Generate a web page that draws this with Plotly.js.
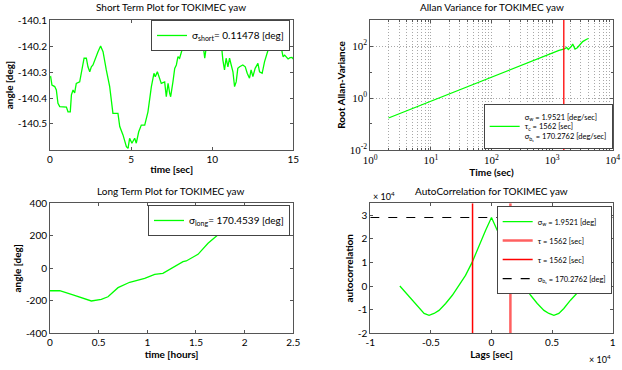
<!DOCTYPE html>
<html>
<head>
<meta charset="utf-8">
<script src="https://cdn.plot.ly/plotly-3.0.1.min.js"></script>
<style>html,body{margin:0;padding:0;background:#fff;}#chart{width:622px;height:370px;}</style>
</head>
<body>
<div id="chart"></div>
<script>
// ---------- Short term (time [sec] vs angle [deg]) ----------
var shortTime = [0,0.04,0.12,0.29,0.39,0.49,0.6,0.8,1.01,1.11,1.25,1.32,1.42,1.52,1.62,1.83,1.93,2.1,2.24,2.34,2.45,2.55,2.65,2.86,2.96,3.12,3.27,3.47,3.68,3.88,3.99,4.19,4.3,4.5,4.71,4.81,4.91,5.05,5.22,5.32,5.47,5.63,5.84,6.04,6.25,6.41,6.49,6.62,6.86,7.07,7.17,7.28,7.38,7.44,7.58,7.69,7.79,7.89,7.99,8.1,8.2,8.41,8.51,8.61,8.71,8.9,9.1,9.3,9.43,9.54,9.64,9.74,9.95,10.15,10.35,10.56,10.66,10.76,10.86,10.97,11.07,11.17,11.28,11.38,11.48,11.58,11.69,11.89,12.04,12.16,12.3,12.4,12.51,12.65,12.82,12.92,13.08,13.23,13.39,13.54,13.7,13.9,14.1,14.16,14.27,14.37,14.47,14.57,14.68,14.8,14.92,15];
var shortAngle = [-140.32,-140.318,-140.35,-140.356,-140.369,-140.42,-140.433,-140.433,-140.435,-140.453,-140.453,-140.388,-140.369,-140.38,-140.344,-140.338,-140.305,-140.247,-140.247,-140.28,-140.299,-140.28,-140.273,-140.235,-140.222,-140.2,-140.222,-140.292,-140.356,-140.459,-140.459,-140.459,-140.51,-140.542,-140.587,-140.594,-140.555,-140.574,-140.555,-140.574,-140.53,-140.504,-140.504,-140.453,-140.356,-140.305,-140.318,-140.299,-140.344,-140.338,-140.395,-140.344,-140.382,-140.395,-140.338,-140.286,-140.273,-140.241,-140.247,-140.222,-140.203,-140.21,-140.196,-140.19,-140.17,-140.15,-140.16,-140.17,-140.19,-140.247,-140.203,-140.19,-140.203,-140.196,-140.18,-140.19,-140.254,-140.292,-140.247,-140.28,-140.247,-140.273,-140.299,-140.356,-140.338,-140.286,-140.28,-140.273,-140.28,-140.305,-140.324,-140.292,-140.318,-140.286,-140.267,-140.299,-140.305,-140.26,-140.222,-140.196,-140.17,-140.15,-140.17,-140.19,-140.21,-140.241,-140.235,-140.241,-140.25,-140.245,-140.244,-140.25];
var shortYTicks = [-140.5,-140.4,-140.3,-140.2,-140.1];
var shortYLabels = ['-140.5','-140.4','-140.3','-140.2','-140.1'];

// ---------- Allan deviation ----------
var allanTau = [2,3,4,6,8,12,16,24,32,48,64,96,128,192,256,384,512,768,1024,1300,1450,1600,1740,1850,2090,2190,2390,2610,2880,3200,3720,3980];
var allanSigma = [0.170,0.248,0.324,0.474,0.621,0.906,1.19,1.73,2.27,3.31,4.34,6.34,8.30,12.1,15.8,23.2,30.3,44.3,57.9,67.6,72.4,77,88,74,98,120,76,86,112,148,182,195];
var tauC = 1562;
var allanRangeY = [0.01,1000];
var allanXTickVals = [1,10,100,1000,10000];
var allanXTickText = ['10<sup>0</sup>','10<sup>1</sup>','10<sup>2</sup>','10<sup>3</sup>','10<sup>4</sup>'];
var allanYTickVals = [0.01,1,100];
var allanYTickText = ['10<sup>-2</sup>','10<sup>0</sup>','10<sup>2</sup>'];

// ---------- Long term ----------
var longHours = [0,0.1,0.236,0.425,0.527,0.596,0.699,0.819,0.973,1.076,1.16,1.28,1.367,1.4,1.521,1.624,1.727,1.829,1.95];
var longAngle = [-138,-138,-164,-201,-191,-175,-119,-86,-62,-37,-31,10,41,45,86,154,205,256,320];
var longYTicks = [-400,-200,0,200,400];
var longYLabels = ['-400','-200','0','200','400'];

// ---------- Autocorrelation ----------
var lagSec = [-7560,-7070,-6520,-5970,-5560,-5150,-4740,-4330,-3780,-3230,-2690,-2140,-1590,-1040,-490,0,490,1040,1590,2140,2690,3230,3780,4330,4740,5150,5560,5970,6520,7070,7600];
var autoCorr = [0,-2800,-6000,-9500,-11600,-12400,-11600,-10300,-7400,-3900,300,4500,10100,17200,23500,29000,23500,17200,10100,4500,300,-3900,-7400,-10300,-11600,-12400,-11600,-9500,-6000,-2800,0];
var sigmaB = 170.2762;
var acXRange = [-10000,10000];
var acYRange = [-20000,35000];
var acXTicks = [-10000,-5000,0,5000,10000];
var acXLabels = ['-1','-0.5','0','0.5','1'];
var acYTicks = [-20000,-10000,0,10000,20000,30000];
var acYLabels = ['-2','-1','0','1','2','3'];

// minor tick positions for the log time axis (2..9 in each decade)
var allanXMinor = [];
[1,10,100,1000].forEach(function(d){ for (var k=2;k<10;k++) allanXMinor.push(k*d); });
var allanYMinor = [0.1,10];

var FONT = 'Lato, "Open Sans", sans-serif';
var GREEN = '#00ff00';
var AX = '#555';
var GRID = '#a8a8a8';
var DOTS = '1px,2px';

function baseAxis(extra){
  var a = {showline:true, linecolor:AX, linewidth:1, mirror:'allticks', ticks:'inside', ticklen:3, tickcolor:AX,
           showgrid:false, zeroline:false, tickfont:{family:FONT, size:10, color:'#000'}, automargin:false};
  for (var k in extra) a[k]=extra[k];
  return a;
}
function axTitle(t, s){ return {text:t, font:{family:FONT, size:10, color:'#000', weight:'bold'}, standoff:s}; }

var traces = [
  {x:shortTime, y:shortAngle, xaxis:'x', yaxis:'y', mode:'lines', line:{color:GREEN, width:1.3},
   name:'σ<sub>short</sub>= 0.11478 [deg]', legend:'legend'},
  {x:allanTau, y:allanSigma, xaxis:'x2', yaxis:'y2', mode:'lines', line:{color:GREEN, width:1.3},
   name:'σ<sub>w</sub> = 1.9521 [deg/sec]<br>τ<sub>c</sub> = 1562 [sec]<br>σ<sub>b₁</sub> = 170.2762 [deg/sec]', legend:'legend2'},
  {x:[tauC,tauC], y:allanRangeY, xaxis:'x2', yaxis:'y2', mode:'lines', line:{color:'#ff0000', width:1.3}, showlegend:false},
  {x:longHours, y:longAngle, xaxis:'x3', yaxis:'y3', mode:'lines', line:{color:GREEN, width:1.3},
   name:'σ<sub>long</sub>= 170.4539 [deg]', legend:'legend3'},
  {x:lagSec, y:autoCorr, xaxis:'x4', yaxis:'y4', mode:'lines', line:{color:GREEN, width:1.3},
   name:'σ<sub>w</sub> = 1.9521 [deg]', legend:'legend4'},
  {x:[tauC,tauC], y:acYRange, xaxis:'x4', yaxis:'y4', mode:'lines', line:{color:'#ff6060', width:2.5},
   name:'τ = 1562 [sec]', legend:'legend4'},
  {x:[-tauC,-tauC], y:acYRange, xaxis:'x4', yaxis:'y4', mode:'lines', line:{color:'#ff0000', width:1.5},
   name:'τ = 1562 [sec]', legend:'legend4'},
  {x:acXRange, y:[sigmaB*sigmaB, sigmaB*sigmaB], xaxis:'x4', yaxis:'y4', mode:'lines', line:{color:'#000', width:1.2, dash:'dash'},
   name:'σ<sub>b₁</sub> = 170.2762 [deg]', legend:'legend4'}
];

function legendBox(x, y, size){
  return {x:x, y:y, xref:'paper', yref:'paper', xanchor:'right', yanchor:'top', bgcolor:'#fff', bordercolor:'#444',
          borderwidth:1, font:{family:FONT, size:size, color:'#000'}, tracegroupgap:0, itemwidth:30};
}

var layout = {
  width:622, height:370, margin:{l:0,r:0,t:0,b:0,autoexpand:false}, paper_bgcolor:'#fff', plot_bgcolor:'#fff',
  font:{family:FONT, color:'#000'},
  xaxis: baseAxis({domain:[0.0804,0.4715], anchor:'y', range:[0,15], tickvals:[0,5,10,15], title:axTitle('time [sec]',2)}),
  yaxis: baseAxis({domain:[0.5946,0.9459], anchor:'x', range:[-140.6,-140.1], tickvals:shortYTicks, ticktext:shortYLabels, title:axTitle('angle [deg]',2)}),
  xaxis2: baseAxis({domain:[0.5953,0.985], anchor:'y2', type:'log', range:[0,4], tickvals:allanXTickVals, ticktext:allanXTickText,
     showgrid:true, gridcolor:GRID, griddash:DOTS, gridwidth:1, tickfont:{family:'"Liberation Serif", serif', size:11, color:'#000'},
     minor:{tickmode:'array', tickvals:allanXMinor, ticks:'inside', ticklen:2, tickcolor:AX, showgrid:true, gridcolor:GRID, griddash:DOTS, gridwidth:1},
     title:axTitle('Time (sec)',0)}),
  yaxis2: baseAxis({domain:[0.5946,0.9459], anchor:'x2', type:'log', range:[-2,3], tickvals:allanYTickVals, ticktext:allanYTickText,
     showgrid:true, gridcolor:GRID, griddash:DOTS, gridwidth:1, tickfont:{family:'"Liberation Serif", serif', size:11, color:'#000'},
     minor:{tickmode:'array', tickvals:allanYMinor, ticks:'inside', ticklen:2, tickcolor:AX, showgrid:false},
     title:axTitle('Root Allan-Variance',2)}),
  xaxis3: baseAxis({domain:[0.0804,0.4715], anchor:'y3', range:[0,2.5], tickvals:[0,0.5,1,1.5,2,2.5], title:axTitle('time [hours]',2)}),
  yaxis3: baseAxis({domain:[0.0992,0.4505], anchor:'x3', range:[-400,400], tickvals:longYTicks, ticktext:longYLabels, title:axTitle('angle [deg]',2)}),
  xaxis4: baseAxis({domain:[0.5953,0.985], anchor:'y4', range:acXRange, tickvals:acXTicks, ticktext:acXLabels, title:axTitle('Lags [sec]',2)}),
  yaxis4: baseAxis({domain:[0.0992,0.4505], anchor:'x4', range:acYRange, tickvals:acYTicks, ticktext:acYLabels, title:axTitle('autocorrelation',2)}),
  legend: legendBox(0.4662, 0.946, 10),
  legend2: legendBox(0.985, 0.718, 7.5),
  legend3: legendBox(0.4662, 0.446, 10),
  legend4: legendBox(0.9834, 0.443, 7.5),
  annotations: [
    {text:'Short Term Plot for TOKIMEC yaw', x:0.2757, y:7},
    {text:'Allan Variance for TOKIMEC yaw', x:0.7903, y:7},
    {text:'Long Term Plot for TOKIMEC yaw', x:0.2757, y:190.7},
    {text:'AutoCorrelation for TOKIMEC yaw', x:0.7903, y:190.7},
    {text:'× 10<sup>4</sup>', x:0.597, y:196, xanchor:'left', size:9},
    {text:'× 10<sup>4</sup>', x:0.985, y:359, xanchor:'right', size:9}
  ].map(function(a){
    return {text:a.text, x:a.x, y:1 - a.y/370, xref:'paper', yref:'paper', xanchor:a.xanchor||'center', yanchor:'middle',
            showarrow:false, font:{family:FONT, size:a.size||10, color:'#000'}};
  })
};

Plotly.newPlot('chart', traces, layout, {staticPlot:true, displayModeBar:false});
</script>
</body>
</html>
